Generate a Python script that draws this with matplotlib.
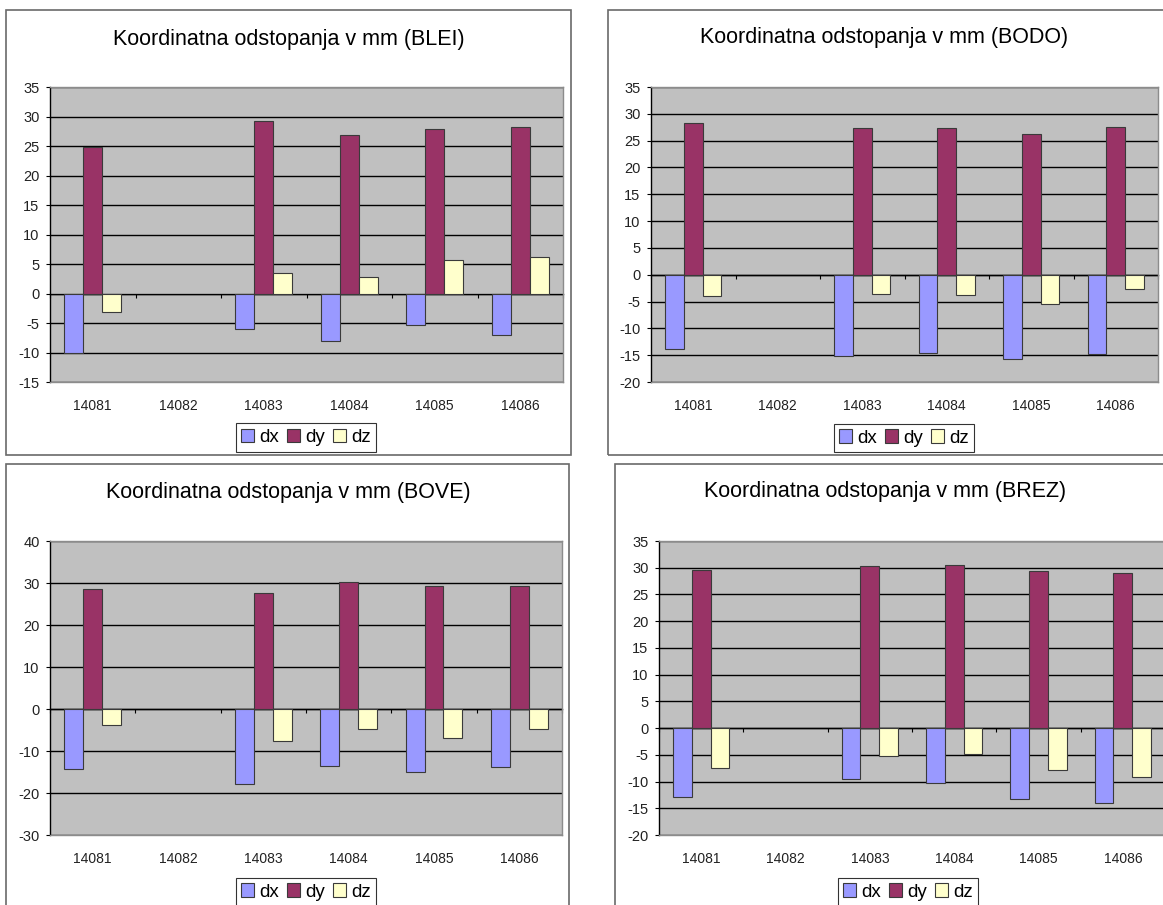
import numpy as np
import matplotlib
matplotlib.use("Agg")
import matplotlib.pyplot as plt
from matplotlib.patches import Rectangle

plt.rcParams['font.family'] = ['Liberation Sans', 'DejaVu Sans']
plt.rcParams['axes.unicode_minus'] = False

nan = np.nan
categories = ['14081', '14082', '14083', '14084', '14085', '14086']
series = ['dx', 'dy', 'dz']
colors = ['#9999FF', '#993366', '#FFFFCC']

# odstopanja v mm, 14082 brez podatkov
blei_dx = [-10.0, nan, -6.1, -8.1, -5.4, -7.0]
blei_dy = [24.9, nan, 29.2, 26.8, 27.9, 28.2]
blei_dz = [-3.2, nan, 3.4, 2.8, 5.6, 6.2]

bodo_dx = [-13.8, nan, -15.2, -14.6, -15.8, -14.8]
bodo_dy = [28.3, nan, 27.3, 27.3, 26.3, 27.6]
bodo_dz = [-3.9, nan, -3.6, -3.8, -5.4, -2.6]

bove_dx = [-14.2, nan, -17.8, -13.5, -14.9, -13.8]
bove_dy = [28.6, nan, 27.6, 30.3, 29.3, 29.4]
bove_dz = [-3.8, nan, -7.5, -4.7, -6.9, -4.8]

brez_dx = [-12.8, nan, -9.5, -10.2, -13.3, -14.1]
brez_dy = [29.6, nan, 30.4, 30.6, 29.4, 29.1]
brez_dz = [-7.4, nan, -5.2, -4.8, -7.8, -9.1]

W, H = 1163, 905
fig = plt.figure(figsize=(W / 100, H / 100), dpi=100)
fig.patch.set_facecolor('white')


def fx(x):
    return x / W


def fy(y):
    return 1 - y / H


def panel(name, data, frame, plot, ylim, ystep, title_xy, legend_xy):
    # okvir grafa
    l, t, r, b = frame
    fig.add_artist(Rectangle((fx(l), fy(b)), fx(r - l), (b - t) / H,
                             transform=fig.transFigure, fill=False,
                             edgecolor='#6a6a6a', linewidth=1.2))
    fig.text(fx(title_xy[0]), fy(title_xy[1]),
             'Koordinatna odstopanja v mm (%s)' % name,
             ha='center', va='center', fontsize=15.5)

    l, t, r, b = plot
    ax = fig.add_axes([fx(l), fy(b), fx(r - l), (b - t) / H])
    ax.set_facecolor('#C0C0C0')
    x = np.arange(len(categories))
    w = 0.222
    handles = []
    for k, (vals, col) in enumerate(zip(data, colors)):
        h = ax.bar(x + (k - 1) * w, vals, w, color=col,
                   edgecolor='#3a3a3a', linewidth=0.8, label=series[k])
        handles.append(h)

    ax.set_xlim(-0.5, len(categories) - 0.5)
    ax.set_ylim(*ylim)
    ax.set_yticks(np.arange(ylim[0], ylim[1] + 1, ystep))
    ax.grid(axis='y', color='black', linewidth=1)
    ax.set_axisbelow(True)
    ax.tick_params(axis='y', direction='out', length=3, width=0.8, pad=4.5,
                   labelsize=10.5, colors='black', labelcolor='#222222')
    ax.set_xticks(x, categories)
    ax.tick_params(axis='x', length=0, pad=12, labelsize=10,
                   labelcolor='#222222')
    for s in ['top', 'right', 'bottom']:
        ax.spines[s].set_color('#8c8c8c')
        ax.spines[s].set_linewidth(1)
    ax.spines['left'].set_color('black')
    ax.spines['left'].set_linewidth(1)

    # os x pri vrednosti 0
    zero = ax.secondary_xaxis(0, transform=ax.transData)
    zero.set_xticks(np.arange(-0.5, len(categories), 1))
    zero.tick_params(axis='x', direction='out', length=3, width=0.8,
                     labelbottom=False, color='black')
    zero.spines['bottom'].set_color('black')
    zero.spines['bottom'].set_linewidth(1)

    leg = ax.legend(handles=handles, loc='center', ncol=3,
                    bbox_to_anchor=(fx(legend_xy[0]), fy(legend_xy[1])),
                    bbox_transform=fig.transFigure, fontsize=13.5,
                    frameon=True, fancybox=False, shadow=False,
                    handlelength=0.7, handleheight=0.7, handletextpad=0.25,
                    columnspacing=0.45, borderpad=0.3, borderaxespad=0)
    leg.get_frame().set_edgecolor('black')
    leg.get_frame().set_linewidth(0.8)
    return ax


panel('BLEI', [blei_dx, blei_dy, blei_dz],
      (6, 10, 571, 455), (50, 87, 563, 382), (-15, 35), 5,
      (289, 39), (306, 437.5))
panel('BODO', [bodo_dx, bodo_dy, bodo_dz],
      (608, 10, 1175, 455), (651, 87, 1158, 382), (-20, 35), 5,
      (884, 37), (904, 438))
panel('BOVE', [bove_dx, bove_dy, bove_dz],
      (6, 464, 569, 920), (50, 541, 562, 835), (-30, 40), 10,
      (288, 492), (306, 892))
panel('BREZ', [brez_dx, brez_dy, brez_dz],
      (615, 464, 1180, 920), (659, 541, 1165, 835), (-20, 35), 5,
      (885, 491), (908, 892))

fig.savefig('out.png', dpi=100)
